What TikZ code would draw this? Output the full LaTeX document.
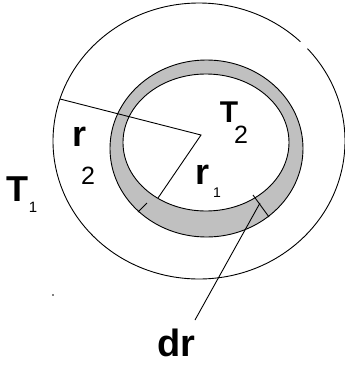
\documentclass[tikz,border=0pt]{standalone}
\usepackage{fontspec}
\setmainfont{Liberation Sans}
\definecolor{bandgray}{RGB}{192,192,192}
\tikzset{
  edge/.style={draw=black, line width=0.9pt},
  lbl/.style={inner sep=0pt, outer sep=0pt, anchor=center},
}
\begin{document}
\begin{tikzpicture}[x=1pt, y=-1pt]
\useasboundingbox (0,0) rectangle (345,370);
% outer boundary (with small gap at top right)
\draw[edge] (199,141) ++(-42:146 and 138) arc[start angle=-42, end angle=314, x radius=146, y radius=138];
% gray band
\fill[bandgray, even odd rule] (206.5,148.5) ellipse[x radius=96.5, y radius=88.5]
                                (206,142.5) ellipse[x radius=83, y radius=68.5];
\draw[edge] (206.5,148.5) ellipse[x radius=96.5, y radius=88.5];
\draw[edge] (206,142.5) ellipse[x radius=83, y radius=68.5];
% named points
\coordinate (c) at (201,135);
\coordinate (p2) at (60,99);
\coordinate (p1) at (158,198);
\coordinate (ta) at (138,212);
\coordinate (tb) at (147,203);
\coordinate (da) at (253,195);
\coordinate (db) at (269,217);
\coordinate (la) at (260,203);
\coordinate (lb) at (195,320);
% radii and ticks
\draw[edge] (p2) -- (c) -- (p1);
\draw[edge] (ta) -- (tb);
\draw[edge] (da) -- (db);
\draw[edge] (la) -- (lb);
\fill (53,295) circle[radius=0.8];
% labels
\node[lbl, font=\fontsize{36}{36}\selectfont\bfseries] (T1) at (17,189) {T};
\node[lbl, font=\fontsize{15}{15}\selectfont] (T1s) at (33,207) {1};
\node[lbl, font=\fontsize{30}{30}\selectfont\bfseries] (T2) at (229,112) {T};
\node[lbl, font=\fontsize{25}{25}\selectfont] (T2s) at (241,135) {2};
\node[lbl, font=\fontsize{36}{36}\selectfont\bfseries] (r2) at (80,137) {r};
\node[lbl, font=\fontsize{25}{25}\selectfont] (r2s) at (88,176) {2};
\node[lbl, font=\fontsize{36}{36}\selectfont\bfseries] (r1) at (203,175) {r};
\node[lbl, font=\fontsize{14}{14}\selectfont] (r1s) at (217,193) {1};
\node[lbl, font=\fontsize{38}{38}\selectfont\bfseries] (dr) at (176,343) {dr};
\end{tikzpicture}
\end{document}
